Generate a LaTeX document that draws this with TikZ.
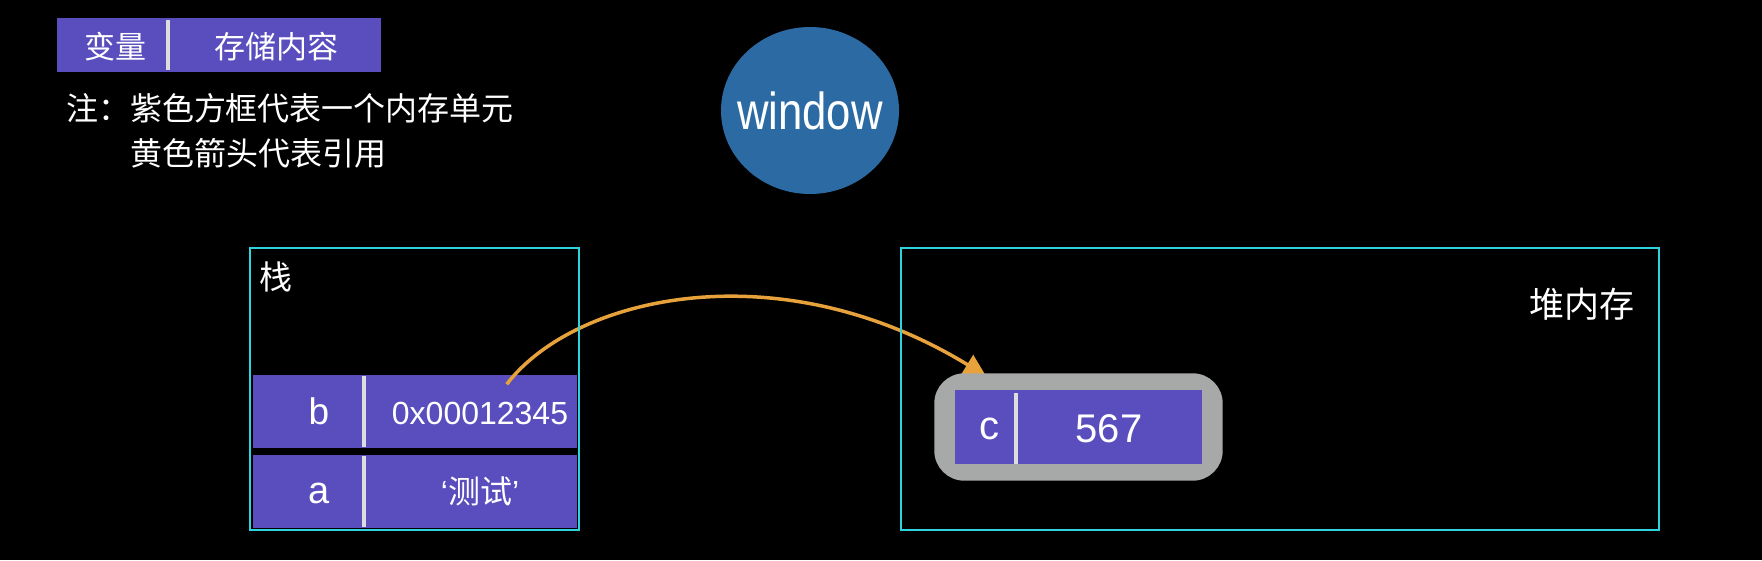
\documentclass[tikz,border=0pt]{standalone}
\usepackage{fontspec}
\setmainfont{Liberation Sans}
\newfontfamily\cjk{Noto Sans CJK SC}
\usetikzlibrary{arrows.meta,shapes.geometric}
\definecolor{cellpurple}{HTML}{5A4DBD}
\definecolor{framecyan}{HTML}{2ED3DD}
\definecolor{boxgray}{HTML}{A6A9A7}
\definecolor{winblue}{HTML}{2B6AA2}
\definecolor{refarrow}{HTML}{E8A23B}
\definecolor{divgray}{HTML}{DDDDDD}
\newcommand{\fsz}[1]{\fontsize{#1}{#1}\selectfont}
\begin{document}
\begin{tikzpicture}[x=1pt,y=-1pt,
  cell/.style={fill=cellpurple, draw=none, inner sep=0pt, outer sep=0pt},
  divider/.style={draw=divgray, line width=4pt},
  lbl/.style={text=white, inner sep=0pt, outer sep=0pt},
  frame/.style={draw=framecyan, line width=2pt, inner sep=0pt, outer sep=0pt},
  ref/.style={draw=refarrow, line width=3.5pt, -{Triangle[length=22pt,width=22pt]}}]
\useasboundingbox (0,0) rectangle (1762,560);
\fill[black] (0,0) rectangle (1762,560);

% legend
\node[cell, minimum width=323.7pt, minimum height=53.7pt] (legend) at (218.85,44.85) {};
\draw[divider] (168,20) -- (168,70);
\node[lbl] (lgvar) at (115,46.7) {\cjk\fsz{31}变量};
\node[lbl] (lgval) at (276,47) {\cjk\fsz{31}存储内容};
\node[lbl, anchor=west] (note1) at (66,108) {\cjk\fsz{32}注：紫色方框代表一个内存单元};
\node[lbl, anchor=west] (note2) at (130,153) {\cjk\fsz{32}黄色箭头代表引用};

% window
\node[ellipse, fill=winblue, minimum width=178pt, minimum height=167pt, inner sep=0pt] (win) at (810,110.5) {};
\node[lbl, anchor=base] (wintext) at (810,129) {\fsz{52}\scalebox{0.84}[1]{window}};

% stack rows
\node[cell, minimum width=324pt, minimum height=73.3pt] (brow) at (414.7,411.65) {};
\draw[divider] (364,376) -- (364,447);
\node[lbl, anchor=base] (bkey) at (319,424) {\fsz{37}b};
\node[lbl, anchor=base] (bval) at (480,424.3) {\fsz{32}0x00012345};
\node[cell, minimum width=324pt, minimum height=73.3pt] (arow) at (414.7,491.65) {};
\draw[divider] (364,456) -- (364,527);
\node[lbl, anchor=base] (akey) at (319,503.5) {\fsz{38}a};
\node[lbl] (aval) at (480,491.7) {\fsz{32}‘{\cjk 测试}’};

% reference arrow
\coordinate (astart) at (506.7,384.3);
\coordinate (aend) at (986,376);
\draw[ref] (astart) .. controls (575,295) and (780,250) .. (aend);

% frames
\node[frame, minimum width=328.7pt, minimum height=282.3pt] (stack) at (414.65,388.85) {};
\node[lbl] (stacklbl) at (276,277) {\cjk\fsz{33}栈};
\node[frame, minimum width=758.3pt, minimum height=282.3pt] (heap) at (1280.15,388.85) {};
\node[lbl] (heaplbl) at (1582,304) {\cjk\fsz{35}堆内存};

% heap object
\node[fill=boxgray, rounded corners=30pt, minimum width=288.4pt, minimum height=107.4pt, inner sep=0pt] (cobj) at (1078.5,427) {};
\node[cell, minimum width=247pt, minimum height=73.7pt] (crow) at (1078.5,426.85) {};
\draw[divider] (1016,393) -- (1016,463.7);
\node[lbl, anchor=base] (ckey) at (989,439) {\fsz{40}c};
\node[lbl, anchor=base] (cval) at (1109,442.3) {\fsz{40}567};
\end{tikzpicture}
\end{document}
